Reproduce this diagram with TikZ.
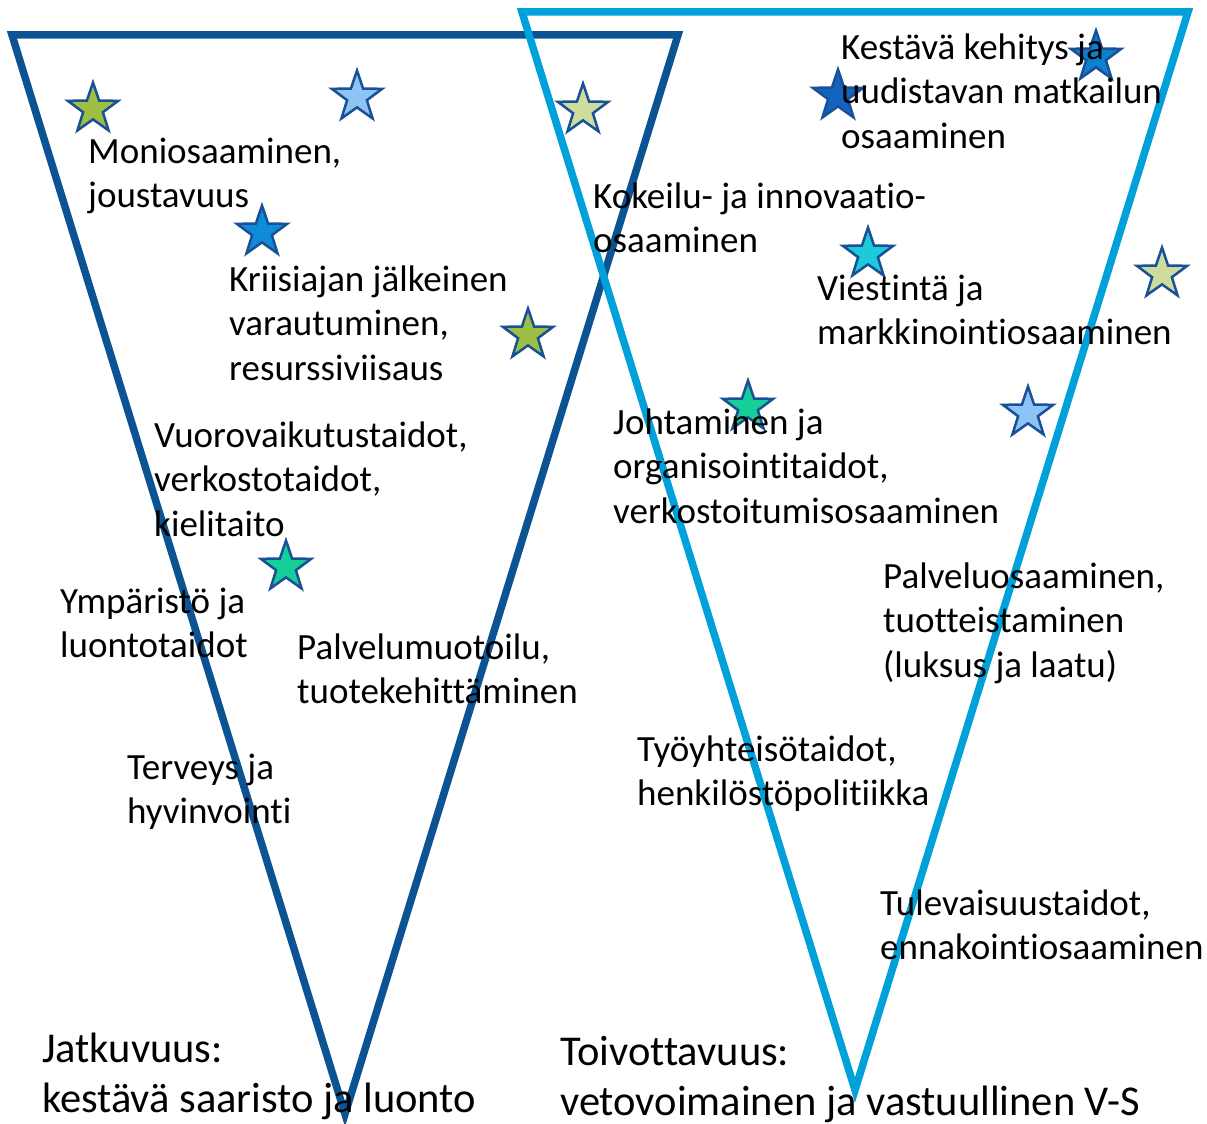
\documentclass[tikz,border=0pt]{standalone}
\usepackage{fontspec}
\setmainfont[Ligatures=NoCommon]{Carlito}
\usetikzlibrary{shapes.geometric}
\definecolor{darkV}{RGB}{12,83,148}
\definecolor{lightV}{RGB}{0,160,218}
\definecolor{starline}{RGB}{25,80,150}
\definecolor{sgreen}{RGB}{158,190,68}
\definecolor{spale}{RGB}{206,221,158}
\definecolor{slight}{RGB}{142,196,245}
\definecolor{smid}{RGB}{14,140,214}
\definecolor{sdark}{RGB}{18,100,192}
\definecolor{sblue}{RGB}{12,128,208}
\definecolor{scyan}{RGB}{28,202,218}
\definecolor{steal}{RGB}{22,206,152}
\tikzset{
  vline/.style={line width=7.5pt, line join=miter},
  starnode/.style={shape=star, star points=5, star point ratio=2.55, minimum size=53pt, inner sep=0pt, draw=starline, line width=2.5pt},
  lab/.style={anchor=base west, inner sep=0pt, align=left, font=\fontsize{37}{44.5}\selectfont},
  biglab/.style={anchor=base west, inner sep=0pt, align=left, font=\fontsize{42.5}{50}\selectfont}
}
\begin{document}
\begin{tikzpicture}[x=1pt,y=-1pt]
\useasboundingbox (0,0) rectangle (1207,1124);
% triangles
\draw[vline, draw=darkV] (12,35) -- (678,35) -- (345,1114) -- cycle;
\draw[vline, draw=lightV] (522,12) -- (1188,12) -- (855,1090) -- cycle;
% stars
\node[starnode, fill=sgreen] (s1) at (93,109) {};
\node[starnode, fill=slight] (s2) at (357,97) {};
\node[starnode, fill=spale] (s3) at (583,110) {};
\node[starnode, fill=smid] (s4) at (262,232) {};
\node[starnode, fill=sgreen] (s5) at (528,335) {};
\node[starnode, fill=steal] (s6) at (286,567) {};
\node[starnode, fill=sdark] (s7) at (838,96) {};
\node[starnode, fill=sblue] (s8) at (1096,57) {};
\node[starnode, fill=scyan] (s9) at (868,254) {};
\node[starnode, fill=spale] (s10) at (1162,274) {};
\node[starnode, fill=steal] (s11) at (748,407) {};
\node[starnode, fill=slight] (s12) at (1028,413) {};
% texts (anchor at baseline of the last line)
\node[lab] (t1) at (88,207.5) {Moniosaaminen,\\joustavuus};
\node[lab] (t2) at (229,380) {Kriisiajan jälkeinen\\varautuminen,\\resurssiviisaus};
\node[lab] (t3) at (154,536) {Vuorovaikutustaidot,\\verkostotaidot,\\kielitaito};
\node[lab] (t4) at (60,657.5) {Ympäristö ja\\luontotaidot};
\node[lab] (t5) at (297,703.5) {Palvelumuotoilu,\\tuotekehittäminen};
\node[lab] (t6) at (127,823.5) {Terveys ja\\hyvinvointi};
\node[lab] (t7) at (841,148) {Kestävä kehitys ja\\uudistavan matkailun\\osaaminen};
\node[lab] (t8) at (593,252.5) {Kokeilu- ja innovaatio-\\osaaminen};
\node[lab] (t9) at (817,344.5) {Viestintä ja\\markkinointiosaaminen};
\node[lab] (t10) at (613,523) {Johtaminen ja\\organisointitaidot,\\verkostoitumisosaaminen};
\node[lab] (t11) at (883,677) {Palveluosaaminen,\\tuotteistaminen\\(luksus ja laatu)};
\node[lab] (t12) at (637,805.5) {Työyhteisötaidot,\\henkilöstöpolitiikka};
\node[lab] (t13) at (880,959.5) {Tulevaisuustaidot,\\ennakointiosaaminen};
\node[biglab] (t14) at (42,1112) {Jatkuvuus:\\kestävä saaristo ja luonto};
\node[biglab] (t15) at (560,1115) {Toivottavuus:\\vetovoimainen ja vastuullinen V-S};
\end{tikzpicture}
\end{document}
